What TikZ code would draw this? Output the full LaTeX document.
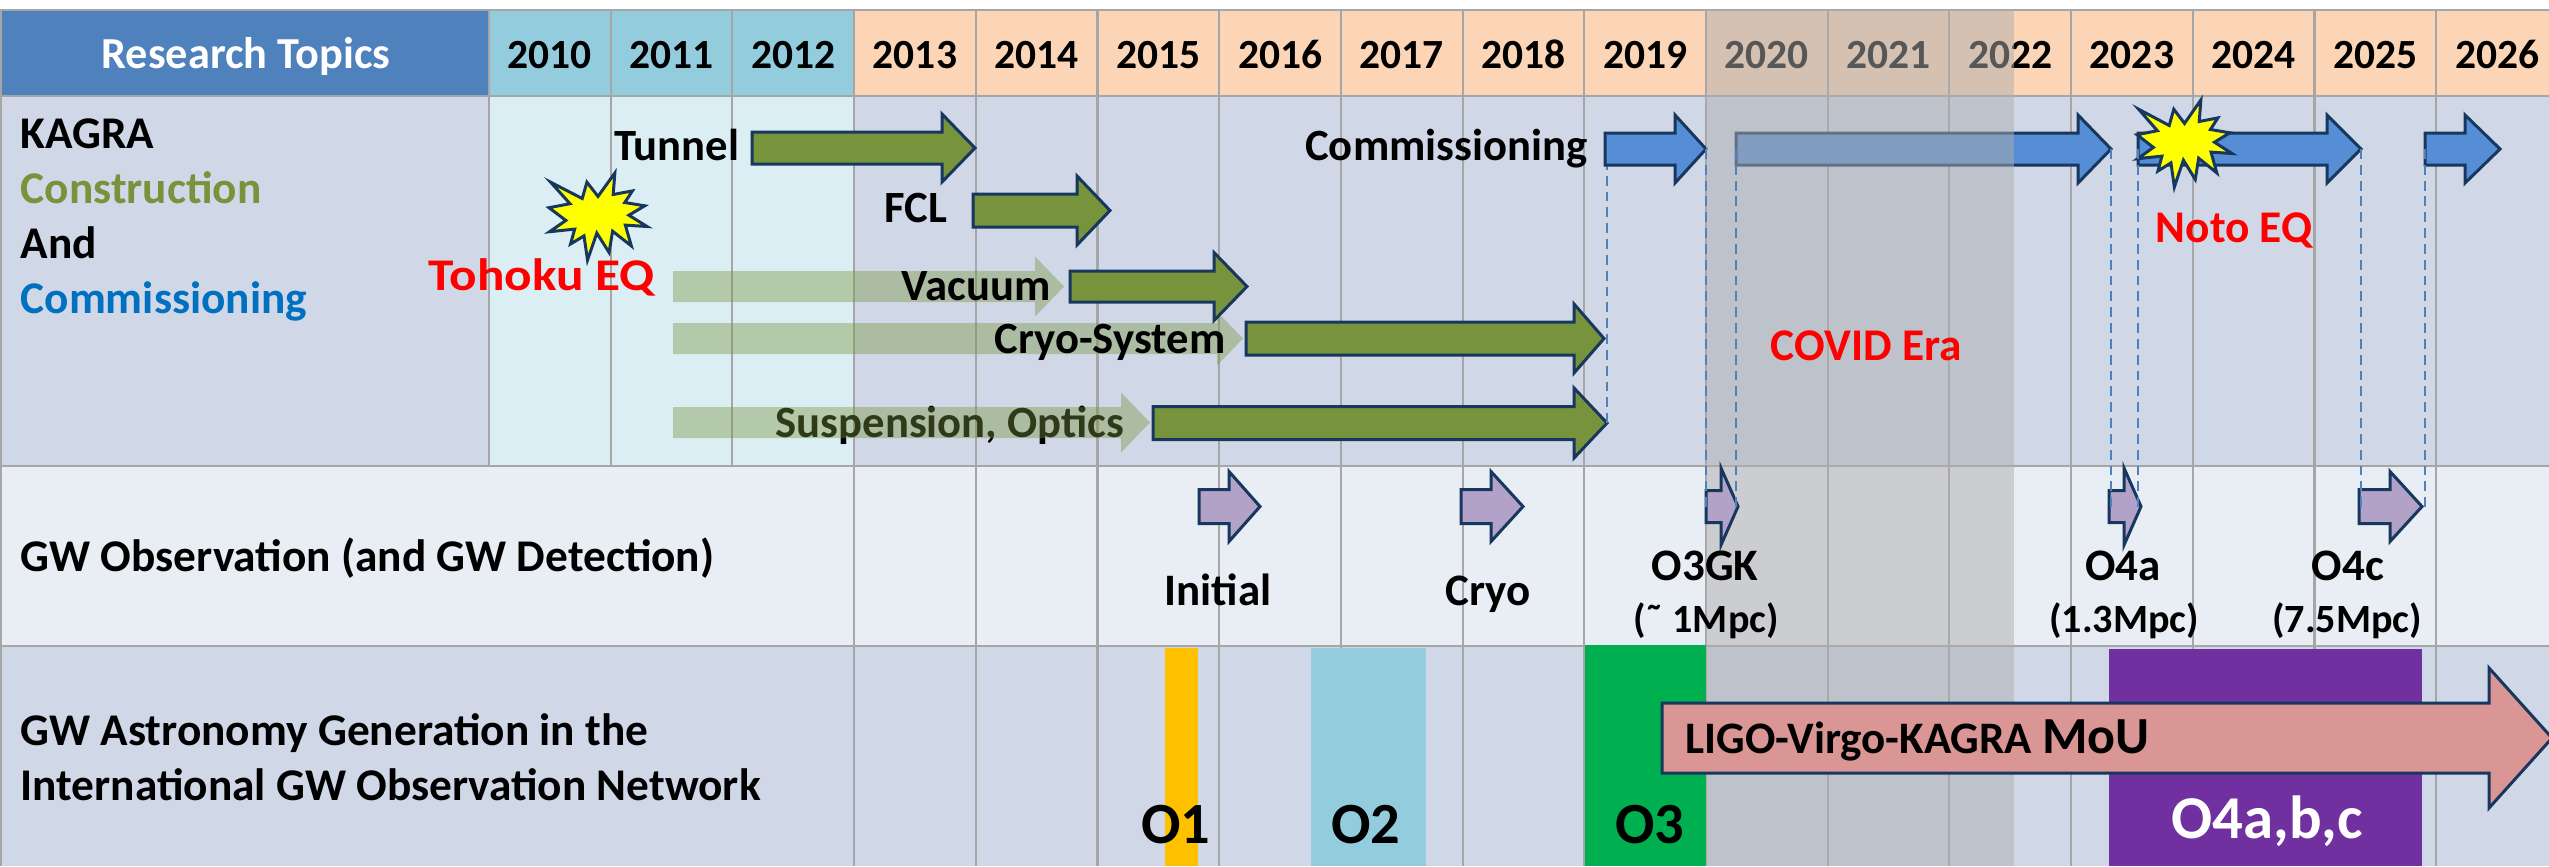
\documentclass[tikz,border=0pt]{standalone}
\usepackage{graphicx}
\usepackage{fontspec}
\setmainfont{Carlito}
\definecolor{hdrblue}{RGB}{79,129,189}
\definecolor{hdrcyan}{RGB}{147,205,221}
\definecolor{hdrpeach}{RGB}{251,213,181}
\definecolor{rowA}{RGB}{208,216,232}
\definecolor{rowLt}{RGB}{219,238,244}
\definecolor{rowB}{RGB}{233,237,244}
\definecolor{gridc}{RGB}{166,166,166}
\definecolor{kolive}{RGB}{119,147,60}
\definecolor{kborder}{RGB}{23,55,94}
\definecolor{kblue}{RGB}{85,142,213}
\definecolor{kpurple}{RGB}{179,162,199}
\definecolor{kpink}{RGB}{217,150,148}
\definecolor{kyellow}{RGB}{255,255,0}
\definecolor{kred}{RGB}{255,0,0}
\definecolor{kcomm}{RGB}{0,112,192}
\definecolor{kdash}{RGB}{79,129,189}
\definecolor{koA}{RGB}{255,192,0}
\definecolor{koB}{RGB}{147,205,221}
\definecolor{koC}{RGB}{0,176,80}
\definecolor{koD}{RGB}{112,48,160}
\definecolor{kgray}{RGB}{174,174,174}
\newcommand{\blkarrow}[8]{%
  \draw[#2] (#3,#6-#7) -- (#4,#6-#7) -- (#4,#6-#8) -- (#5,#6) coordinate (#1-t)
     -- (#4,#6+#8) -- (#4,#6+#7) -- (#3,#6+#7) -- cycle;
  \coordinate (#1-l) at (#3,#6);}
\newcommand{\sealshape}[5]{%
  \begin{scope}[shift={(#2,#3)}, xscale=#4, yscale=#5]
  \draw[boom] (0.500,0.269) coordinate (#1) -- (0.672,0) -- (0.655,0.247) -- (0.851,0.206) -- (0.773,0.339)
   -- (0.977,0.377) -- (0.815,0.485) -- (1.0,0.615) -- (0.779,0.599) -- (0.840,0.838)
   -- (0.649,0.669) -- (0.613,0.913) -- (0.488,0.691) -- (0.393,1.0) -- (0.357,0.723)
   -- (0.220,0.816) -- (0.262,0.645) -- (0.006,0.675) -- (0.172,0.545) -- (0,0.399)
   -- (0.214,0.353) -- (0.017,0.106) -- (0.339,0.293) -- (0.387,0.106) -- cycle;
  \end{scope}}
\tikzset{
  lab/.style={inner sep=0pt, font=\bfseries\fontsize{12.9}{15}\selectfont},
  yrlab/.style={inner sep=0pt, font=\bfseries\fontsize{11.8}{14}\selectfont},
  arlab/.style={inner sep=0pt, font=\bfseries\fontsize{12.7}{15}\selectfont},
  obslab/.style={inner sep=0pt, font=\bfseries\fontsize{12.8}{15}\selectfont},
  redlab/.style={inner sep=0pt, text=kred, font=\bfseries\fontsize{12.9}{15}\selectfont},
  smalllab/.style={inner sep=0pt, font=\bfseries\fontsize{11.4}{13}\selectfont},
  biglab/.style={inner sep=0pt, font=\bfseries\fontsize{16.6}{20}\selectfont},
  blk/.style={draw=kborder, line width=0.85pt, line join=miter},
  greenar/.style={blk, fill=kolive},
  bluear/.style={blk, fill=kblue},
  purpar/.style={blk, fill=kpurple},
  pinkar/.style={blk, fill=kpink},
  fadear/.style={fill=kolive, fill opacity=0.4, draw=none},
  gridln/.style={draw=gridc, line width=0.6pt},
  dsh/.style={draw=kdash, line width=0.75pt, dash pattern=on 2.8pt off 1.7pt},
  boom/.style={draw=kborder, line width=0.85pt, fill=kyellow, line join=miter},
}
\begin{document}
\begin{tikzpicture}[x=0.01cm, y=-0.01cm]
\useasboundingbox (0,0) rectangle (2549,866);
% backgrounds
\fill[white] (0,0) rectangle (2549,866);
\fill[hdrblue] (0,10) rectangle (489,96);
\fill[hdrcyan] (489,10) rectangle (854.1,96);
\fill[hdrpeach] (854.1,10) rectangle (2549,96);
\fill[rowA] (0,96) rectangle (489,466);
\fill[rowLt] (489,96) rectangle (854.1,466);
\fill[rowA] (854.1,96) rectangle (2549,466);
\fill[rowB] (0,466) rectangle (2549,646);
\fill[rowA] (0,646) rectangle (2549,866);
% grid
\foreach \y in {10,96,466,646} \draw[gridln] (0,\y) -- (2549,\y);
\draw[gridln] (0.5,10) -- (0.5,866);
\foreach \x in {489,610.7,732.4} \draw[gridln] (\x,10) -- (\x,466);
\foreach \k in {3,...,16} \draw[gridln] ({489+121.7*\k},10) -- ({489+121.7*\k},866);
% header text
\node[inner sep=0pt, text=white, font=\bfseries\fontsize{12.6}{15}\selectfont, anchor=base] (hdr) at (246,68) {Research Topics};
\foreach \yr [count=\k from 0] in {2010,...,2026}
  \node[yrlab, anchor=base] (yr\yr) at ({489+121.7*\k+60.85},68) {\yr};
% row labels
\node[lab, anchor=base west] (kagra) at (20,148) {KAGRA};
\node[lab, anchor=base west, text=kolive] (constr) at (20,203) {Construction};
\node[lab, anchor=base west] (andw) at (20,258) {And};
\node[lab, anchor=base west, text=kcomm] (commw) at (20,313) {Commissioning};
\node[lab, anchor=base west] (obsrow) at (20,571) {GW Observation (and GW Detection)};
\node[lab, anchor=base west] (astroA) at (20,745) {GW Astronomy Generation in the};
\node[lab, anchor=base west] (astroB) at (20,800) {International GW Observation Network};
% row 1
\node[arlab, anchor=base west] (susplab) at (775,437) {Suspension, Optics};
\blkarrow{fvac}{fadear}{673}{1035}{1064}{286.5}{15.5}{30}
\blkarrow{fcryo}{fadear}{673}{1217}{1243}{338.5}{15.5}{27}
\blkarrow{fsusp}{fadear}{673}{1121}{1150}{422.5}{15.5}{30}
\node[arlab, anchor=base east] (tunnellab) at (740,160) {Tunnel};
\node[arlab, anchor=base east] (fcllab) at (948,222) {FCL};
\node[arlab, anchor=base east] (vaclab) at (1051,300) {Vacuum};
\node[arlab, anchor=base east] (cryolab) at (1226,353) {Cryo-System};
\node[arlab, anchor=base east] (commlab) at (1588,160) {Commissioning};
\blkarrow{tunnel}{greenar}{752}{942}{975}{148}{16}{34}
\blkarrow{fcl}{greenar}{973}{1077}{1110}{210.5}{16.5}{34.5}
\blkarrow{vac}{greenar}{1070}{1214}{1247}{286.5}{15.5}{34}
\blkarrow{cryo}{greenar}{1246}{1574}{1604}{338.5}{16.5}{34.5}
\blkarrow{susp}{greenar}{1153}{1574}{1607}{423}{16.5}{35}
\draw[dsh] (susp-t) -- (1607,165);
\blkarrow{comA}{bluear}{1605}{1675}{1706}{149}{16}{34}
\blkarrow{comB}{bluear}{1736}{2078}{2111}{149}{16}{34}
\blkarrow{comC}{bluear}{2138}{2327}{2361}{149}{16}{34}
\blkarrow{comD}{bluear}{2425}{2465}{2500}{149}{16}{34}
\sealshape{tohokustar}{549}{173}{98}{87}
\sealshape{notostar}{2137}{100}{95}{87}
\node[redlab, anchor=base west] (tohoku) at (428,290) {\scalebox{1.13}[1]{Tohoku EQ}};
\node[redlab, anchor=base west] (noto) at (2155,242) {Noto EQ};
% COVID overlay
\fill[kgray, fill opacity=0.5] (1706,10) rectangle (2014,866);
\node[redlab, anchor=base west] (covid) at (1770,360) {COVID Era};
% row 2
\blkarrow{initial}{purpar}{1199}{1229}{1260}{506.5}{17}{35}
\blkarrow{cryoobs}{purpar}{1461}{1491}{1523}{506.5}{17}{35}
\blkarrow{othreegk}{purpar}{1706}{1721}{1738}{506.5}{16}{38.5}
\blkarrow{ofoura}{purpar}{2109}{2124}{2141}{506.5}{16}{38.5}
\blkarrow{ofourc}{purpar}{2359}{2390}{2422}{506.5}{17}{35}
\draw[dsh] (comA-t) -- (comA-t |- othreegk-t);
\draw[dsh] (comB-l) -- (comB-l |- othreegk-t);
\draw[dsh] (comB-t) -- (comB-t |- ofoura-t);
\draw[dsh] (comC-l) -- (comC-l |- ofoura-t);
\draw[dsh] (comC-t) -- (comC-t |- ofourc-t);
\draw[dsh] (comD-l) -- (comD-l |- ofourc-t);
\node[obslab, anchor=base] (initlab) at (1218,605) {Initial};
\node[obslab, anchor=base] (cryoobslab) at (1488,605) {Cryo};
\node[obslab, anchor=base] (gklab) at (1705,580) {O3GK};
\node[smalllab, anchor=base] (gkmpc) at (1706,632) {(\char"02DC{} 1Mpc)};
\node[obslab, anchor=base] (ofouralab) at (2123,580) {O4a};
\node[smalllab, anchor=base] (ofourampc) at (2124,632) {(1.3Mpc)};
\node[obslab, anchor=base] (ofourclab) at (2348,580) {O4c};
\node[smalllab, anchor=base] (ofourcmpc) at (2347,632) {(7.5Mpc)};
% row 3
\fill[koA] (1165,648) rectangle (1198,866);
\fill[koB] (1311,648) rectangle (1426,866);
\fill[koC] (1585,645) rectangle (1706,866);
\fill[koD] (2109,649) rectangle (2422,866);
\node[biglab, anchor=base] (oone) at (1176,843) {O1};
\node[biglab, anchor=base] (otwo) at (1366,843) {O2};
\node[biglab, anchor=base] (othree) at (1650,843) {O3};
\node[inner sep=0pt, text=white, font=\bfseries\fontsize{17.3}{21}\selectfont, anchor=base] (ofour) at (2267,838) {O4a,b,c};
\blkarrow{mou}{pinkar}{1662}{2489}{2552}{738}{35}{70}
\node[inner sep=0pt, font=\bfseries\fontsize{12.8}{15}\selectfont, anchor=base west] (moulab) at (1685,753) {LIGO-Virgo-KAGRA {\fontsize{14.8}{17}\selectfont MoU}};
\end{tikzpicture}
\end{document}
